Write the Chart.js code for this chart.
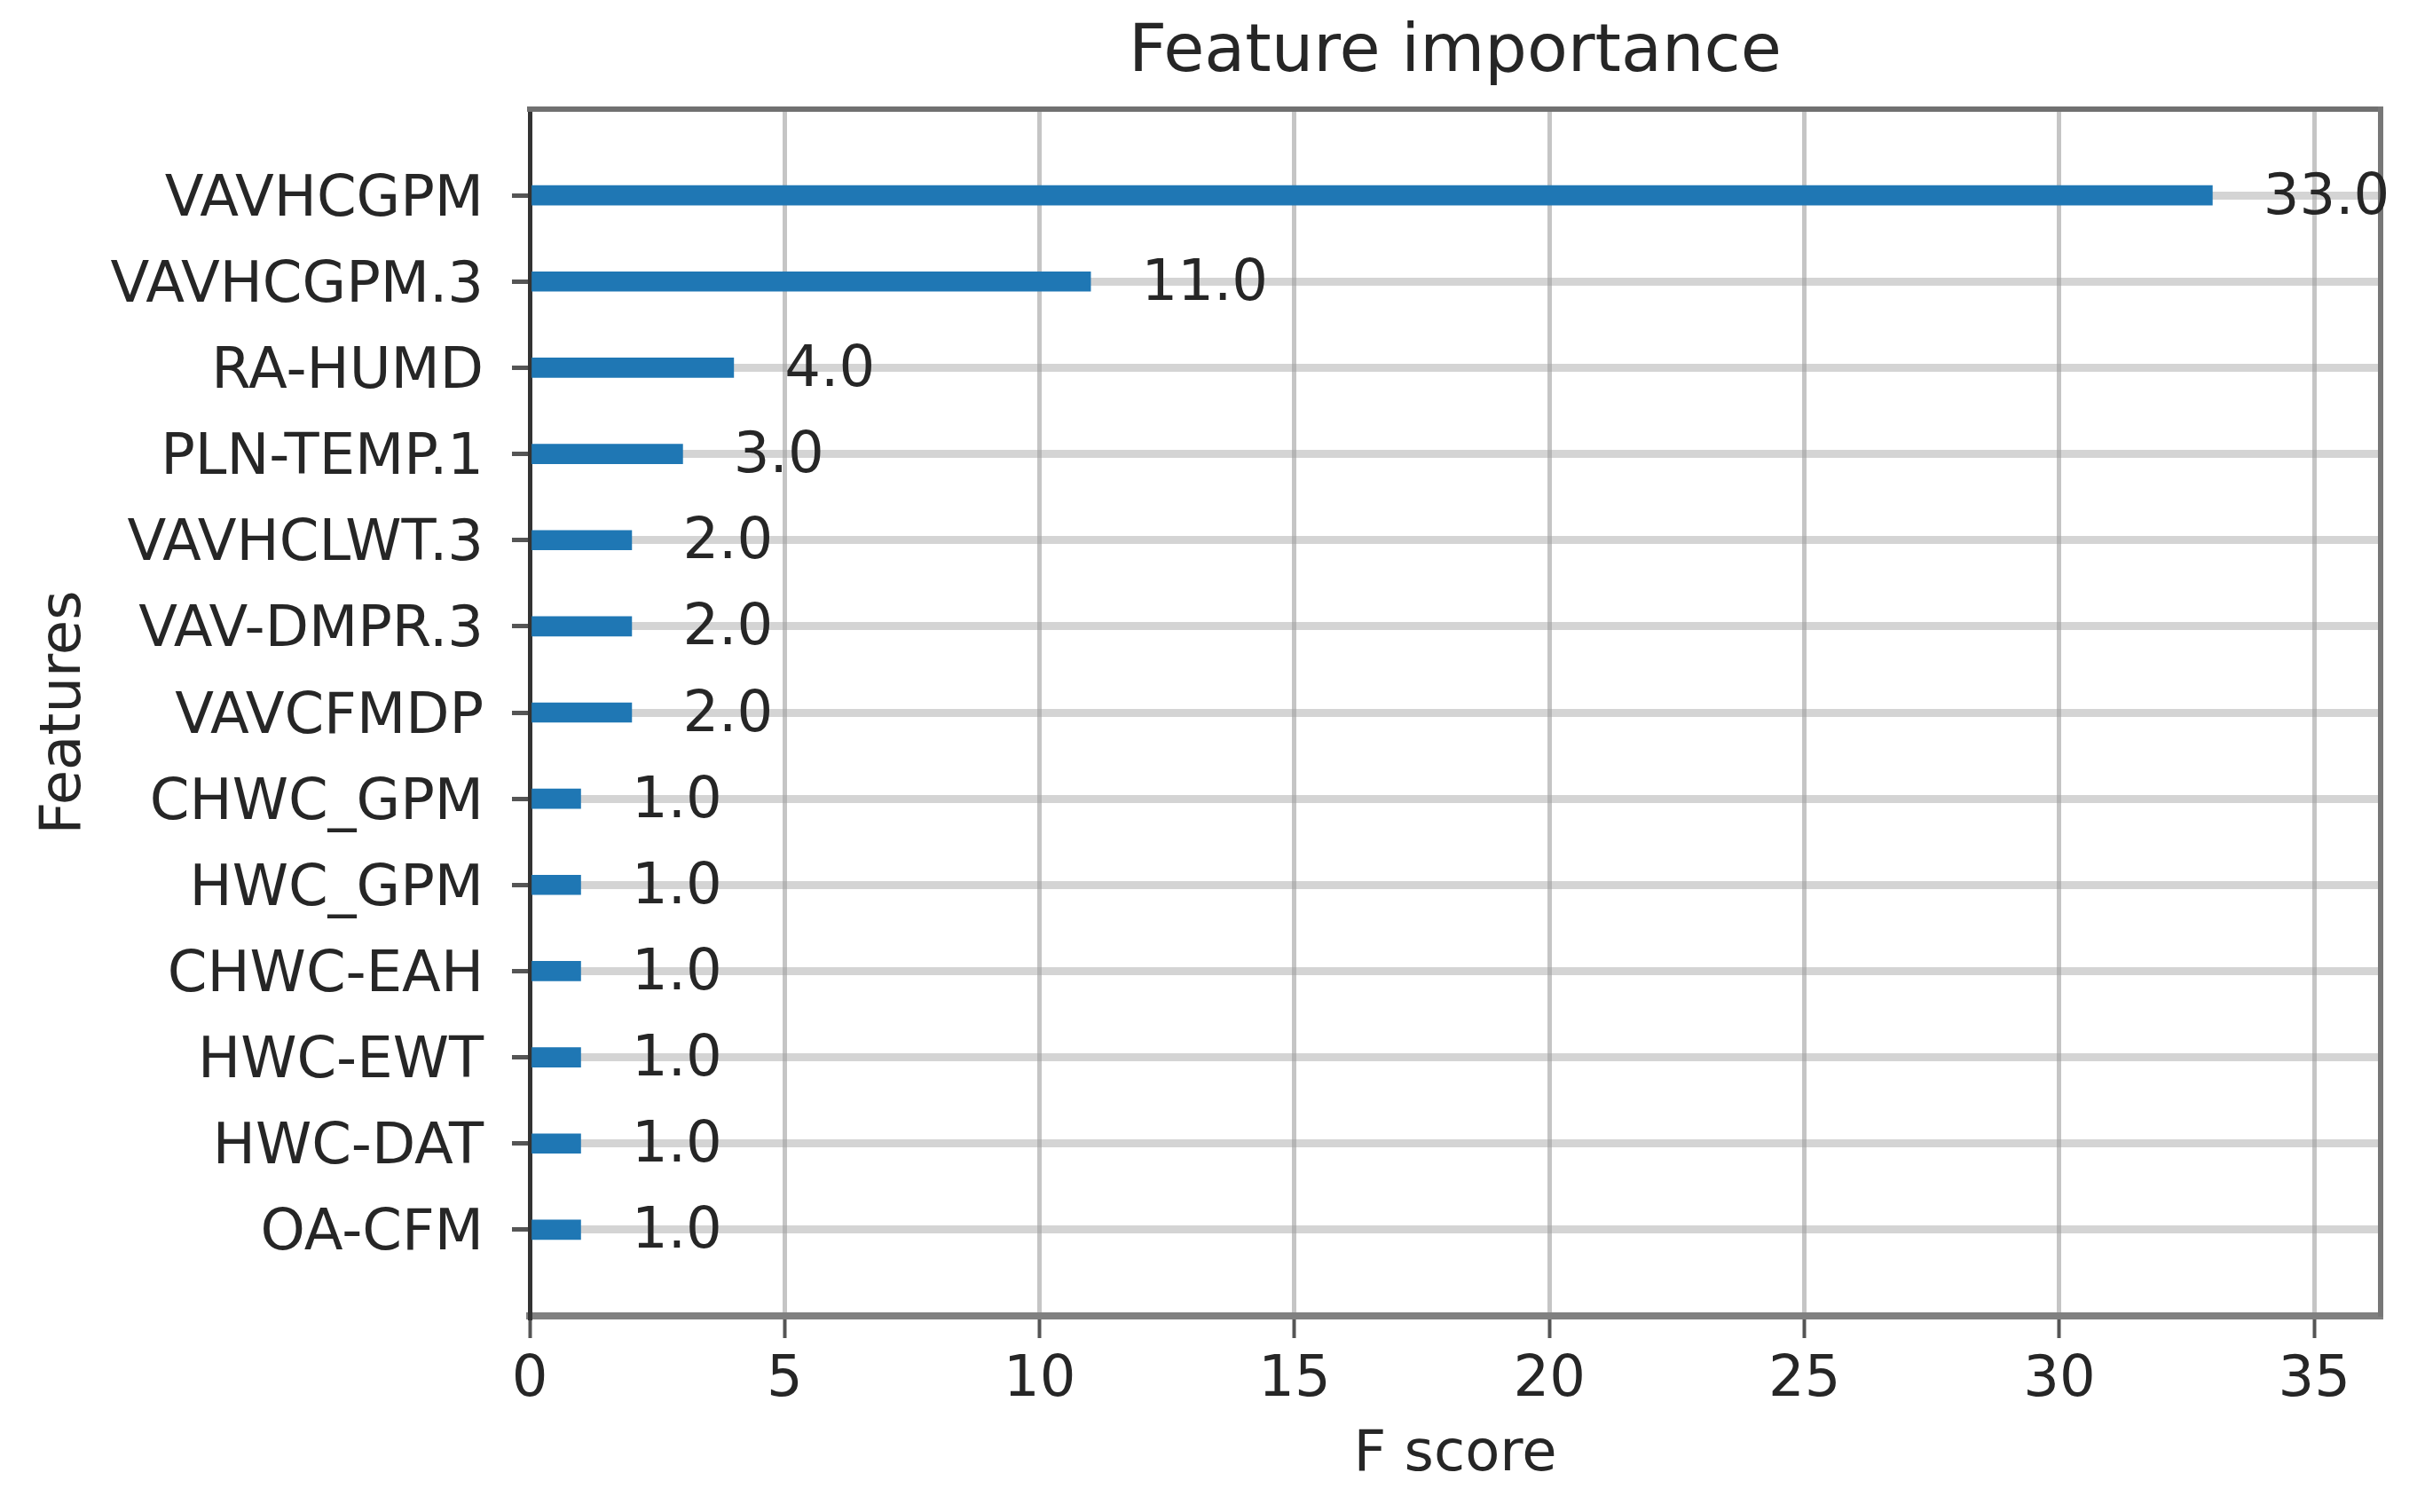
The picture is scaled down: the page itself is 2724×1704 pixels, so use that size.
<!DOCTYPE html>
<html>
<head>
<meta charset="utf-8">
<title>Feature importance</title>
<script src="https://cdn.jsdelivr.net/npm/chart.js@4.4.1/dist/chart.umd.min.js"></script>
<style>
  html, body { margin: 0; padding: 0; background: #fff; }
  #wrap { width: 2724px; height: 1704px; }
</style>
</head>
<body>
<div id="wrap"><canvas id="chart"></canvas></div>
<script>
// features, top to bottom
const features = [
  'VAVHCGPM', 'VAVHCGPM.3', 'RA-HUMD', 'PLN-TEMP.1', 'VAVHCLWT.3',
  'VAV-DMPR.3', 'VAVCFMDP', 'CHWC_GPM', 'HWC_GPM', 'CHWC-EAH',
  'HWC-EWT', 'HWC-DAT', 'OA-CFM'
];
const scores = [33, 11, 4, 3, 2, 2, 2, 1, 1, 1, 1, 1, 1];
const xTickStep = 5;

// one empty slot above and below, like the matplotlib margins
const labels = ['', ...features, ''];
const values = [null, ...scores, null];
const xMax = Math.max(...scores) * 1.1;

const TEXT = '#262626';
const FONT = "'DejaVu Sans', sans-serif";
Chart.defaults.font.family = FONT;
Chart.defaults.color = TEXT;

const isPad = ctx => ctx.index === 0 || ctx.index === labels.length - 1;

// "33.0" style labels, one unit to the right of each bar
const valueLabels = {
  id: 'valueLabels',
  afterDraw(chart) {
    const { ctx } = chart;
    const xs = chart.scales.x;
    const meta = chart.getDatasetMeta(0);
    ctx.save();
    ctx.font = '64px ' + FONT;
    ctx.fillStyle = TEXT;
    ctx.textAlign = 'left';
    ctx.textBaseline = 'middle';
    meta.data.forEach((bar, i) => {
      const v = values[i];
      if (v == null) return;
      ctx.fillText(v.toFixed(1), xs.getPixelForValue(v + 1), bar.y + 4);
    });
    ctx.restore();
  }
};

new Chart(document.getElementById('chart'), {
  type: 'bar',
  data: {
    labels: labels,
    datasets: [{
      data: values,
      backgroundColor: '#1f77b4',
      borderWidth: 0,
      barThickness: 22
    }]
  },
  options: {
    indexAxis: 'y',
    responsive: true,
    maintainAspectRatio: false,
    animation: false,
    devicePixelRatio: 1,
    layout: { padding: { left: 0, right: 41, top: 0, bottom: 0 } },
    plugins: {
      legend: { display: false },
      tooltip: { enabled: false },
      title: { display: false }
    },
    scales: {
      x: {
        type: 'linear',
        position: 'bottom',
        min: 0,
        max: xMax,
        z: 1,
        ticks: {
          stepSize: xTickStep,
          includeBounds: false,
          padding: 10,
          color: TEXT,
          font: { size: 64 }
        },
        grid: {
          color: 'rgba(140,140,140,0.5)',
          lineWidth: 5,
          tickLength: 25,
          tickColor: '#555',
          tickWidth: 4
        },
        border: { display: true, color: '#808080', width: 8 },
        title: {
          display: true,
          text: 'F score',
          color: TEXT,
          font: { size: 64 },
          padding: { top: 0, bottom: 25 }
        },
        afterFit: s => { s.height = 1704 - 1483; }
      },
      y: {
        type: 'category',
        position: 'left',
        offset: false,
        z: 1,
        ticks: {
          padding: 32,
          labelOffset: 6,
          color: TEXT,
          font: { size: 64 },
          autoSkip: false
        },
        grid: {
          offset: false,
          color: ctx => isPad(ctx) ? 'rgba(0,0,0,0)' : 'rgba(160,160,160,0.45)',
          lineWidth: 9,
          tickLength: 20,
          tickColor: ctx => isPad(ctx) ? 'rgba(0,0,0,0)' : '#555',
          tickWidth: 5
        },
        border: { display: true, color: '#333', width: 5 },
        title: {
          display: true,
          text: 'Features',
          color: TEXT,
          font: { size: 64 },
          padding: { top: 35, bottom: 0 }
        },
        afterFit: s => { s.width = 597; }
      },
      // top spine, carrying the chart title so it centres over the plot
      x2: {
        type: 'linear',
        position: 'top',
        min: 0,
        max: xMax,
        z: 1,
        ticks: { display: false },
        grid: { display: false, drawTicks: false },
        border: { display: true, color: '#707070', width: 6 },
        title: {
          display: true,
          text: 'Feature importance',
          color: TEXT,
          font: { size: 75 },
          padding: { top: 16, bottom: 0 }
        },
        afterFit: s => { s.height = 123; }
      },
      y2: {
        type: 'linear',
        position: 'right',
        z: 1,
        ticks: { display: false },
        grid: { display: false, drawTicks: false },
        border: { display: true, color: '#777', width: 6 },
        afterFit: s => { s.width = 0; }
      }
    }
  },
  plugins: [valueLabels]
});
</script>
</body>
</html>
